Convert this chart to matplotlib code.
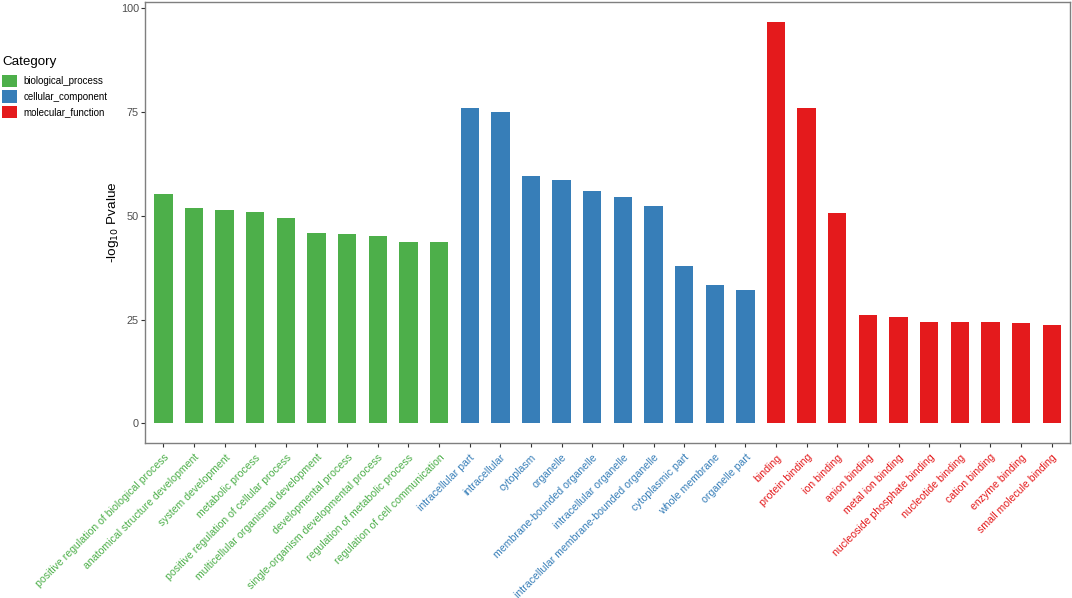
import matplotlib.pyplot as plt
from matplotlib.patches import Patch

plt.rcParams['font.family'] = ['Liberation Sans', 'DejaVu Sans']

bp_terms = ['positive regulation of biological process', 'anatomical structure development',
            'system development', 'metabolic process', 'positive regulation of cellular process',
            'multicellular organismal development', 'developmental process',
            'single-organism developmental process', 'regulation of metabolic process',
            'regulation of cell communication']
bp_values = [55.3, 51.9, 51.3, 50.8, 49.4, 45.9, 45.7, 45.2, 43.8, 43.6]

cc_terms = ['intracellular part', 'intracellular', 'cytoplasm', 'organelle',
            'membrane-bounded organelle', 'intracellular organelle',
            'intracellular membrane-bounded organelle', 'cytoplasmic part',
            'whole membrane', 'organelle part']
cc_values = [76.1, 75.0, 59.7, 58.7, 56.0, 54.6, 52.3, 38.0, 33.3, 32.2]

mf_terms = ['binding', 'protein binding', 'ion binding', 'anion binding', 'metal ion binding',
            'nucleoside phosphate binding', 'nucleotide binding', 'cation binding',
            'enzyme binding', 'small molecule binding']
mf_values = [96.7, 76.1, 50.6, 26.2, 25.5, 24.5, 24.5, 24.5, 24.1, 23.7]

categories = ['biological_process', 'cellular_component', 'molecular_function']
colors = {'biological_process': '#4DAF4A', 'cellular_component': '#377EB8',
          'molecular_function': '#E41A1C'}

terms = bp_terms + cc_terms + mf_terms
values = bp_values + cc_values + mf_values
cats = ['biological_process'] * len(bp_terms) + ['cellular_component'] * len(cc_terms) \
    + ['molecular_function'] * len(mf_terms)
bar_colors = [colors[c] for c in cats]

fig = plt.figure(figsize=(10.72, 5.98), dpi=100)
ax = fig.add_axes([0.1353, 0.2587, 0.8629, 0.738])

x = list(range(len(terms)))
ax.bar(x, values, width=0.6, color=bar_colors)

ymax = max(values)
ax.set_ylim(-0.05 * ymax, ymax * 1.05)
ax.set_xlim(-0.6, len(terms) - 0.4)
ax.set_yticks([0, 25, 50, 75, 100])
ax.set_xticks(x)
ax.set_xticklabels(terms, rotation=45, ha='right', va='top', rotation_mode='anchor', fontsize=7.6)
for lbl, c in zip(ax.get_xticklabels(), bar_colors):
    lbl.set_color(c)
ax.tick_params(axis='y', labelsize=7.8, labelcolor='#4D4D4D', color='#333333', length=3, pad=1.5)
ax.tick_params(axis='x', color='#333333', length=3)
for s in ax.spines.values():
    s.set_color('#7F7F7F')
    s.set_linewidth(1.0)

ax.set_ylabel('-log$_{10}$ Pvalue', fontsize=9.7, labelpad=0)

# legend (title drawn separately to get the wider gap)
fig.text(0.002, 1 - 62 / 598, 'Category', ha='left', va='center', fontsize=9.6)
handles = [Patch(facecolor=colors[c], edgecolor='none', label=c) for c in categories]
fig.legend(handles=handles, loc='upper left', bbox_to_anchor=(-0.006, 1 - 66 / 598),
           frameon=False, fontsize=7.0, handlelength=1.55, handleheight=1.6,
           handletextpad=0.6, labelspacing=0.32)

fig.savefig('out.png', dpi=100)
